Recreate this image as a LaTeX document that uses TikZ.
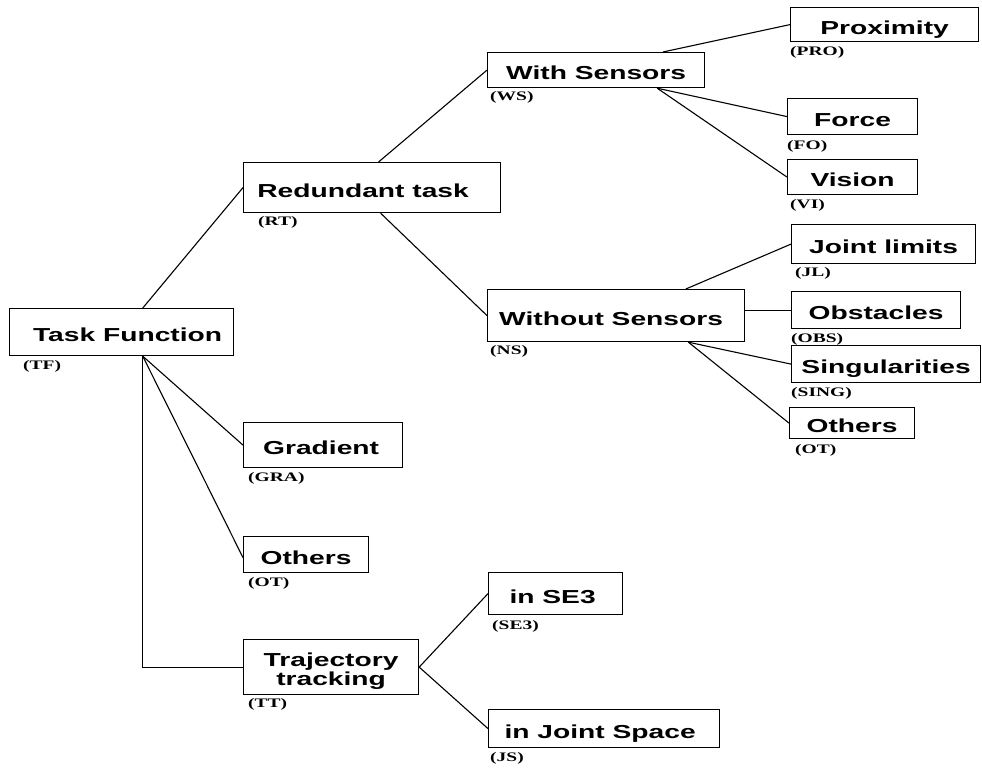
\documentclass[tikz,border=0pt]{standalone}
\usepackage{fontspec}
\usetikzlibrary{calc}
\newfontfamily\boxfont[FakeStretch=1.5]{Liberation Sans}
\newfontfamily\labfont[FakeStretch=1.5]{Liberation Serif}
\tikzset{
  box/.style={draw=black, line width=1.2pt, rectangle, inner sep=0pt, anchor=north west,
    font=\boxfont\bfseries\fontsize{18.8}{16.5}\selectfont, text height=19.4pt, text depth=0pt},
  tag/.style={anchor=west, inner sep=0pt, font=\labfont\bfseries\fontsize{13}{13}\selectfont},
  link/.style={draw=black, line width=1.1pt}
}
\newcommand{\mkbox}[7][]{%
  \node[box, minimum width={(#5-#3)*1pt}, minimum height={(#6-#4)*1pt}, #1] (#2) at (#3,#4) {#7};}
\newcommand{\padr}[1]{\hspace{#1}\mbox{}}
\begin{document}
\begin{tikzpicture}[x=1pt,y=-1pt]
\useasboundingbox (0,0) rectangle (982,768);
% boxes
\mkbox{TF}{9}{308}{233}{355}{\hspace{12pt}Task Function}
\mkbox{RT}{243}{162}{500}{212}{Redundant task\padr{18pt}}
\mkbox{WS}{487}{52}{704}{87}{With Sensors}
\mkbox{NS}{487}{289}{744}{341}{Without Sensors\padr{10pt}}
\mkbox{PRO}{790}{7}{978}{41}{Proximity}
\mkbox{FO}{787}{98}{917}{134}{Force}
\mkbox{VI}{787}{159}{917}{194}{Vision}
\mkbox{JL}{791}{224}{975}{263}{Joint limits}
\mkbox{OBS}{791}{291}{960}{328}{Obstacles}
\mkbox{SING}{791}{345}{980}{382}{Singularities}
\mkbox{OTa}{789}{407}{914}{438}{Others}
\mkbox{GRA}{243}{422}{402}{467}{Gradient\padr{4pt}}
\mkbox{OTb}{243}{536}{368}{572}{Others}
\mkbox[text height=0pt, text depth=1pt]{TT}{243}{639}{418}{694}{\begin{tabular}[t]{@{}c@{}}Trajectory\\tracking\end{tabular}}
\mkbox{SE}{488}{572}{622}{614}{in SE3\padr{6pt}}
\mkbox{JS}{488}{709}{719}{747}{in Joint Space\padr{8pt}}
% tags
\node[tag] (tTF) at (23,366) {(TF)};
\node[tag] (tRT) at (258,222) {(RT)};
\node[tag] (tWS) at (490,97) {(WS)};
\node[tag] (tPRO) at (790,52) {(PRO)};
\node[tag] (tFO) at (787,146) {(FO)};
\node[tag] (tVI) at (790,205) {(VI)};
\node[tag] (tNS) at (490,351) {(NS)};
\node[tag] (tJL) at (795,273) {(JL)};
\node[tag] (tOBS) at (791,339) {(OBS)};
\node[tag] (tSING) at (791,393) {(SING)};
\node[tag] (tOTa) at (795,450) {(OT)};
\node[tag] (tGRA) at (248,478) {(GRA)};
\node[tag] (tOTb) at (248,583) {(OT)};
\node[tag] (tTT) at (248,704) {(TT)};
\node[tag] (tSE) at (492,626) {(SE3)};
\node[tag] (tJS) at (490,758) {(JS)};
% connectors
\coordinate (tfN) at ($(TF.north west)!0.594!(TF.north east)$);
\coordinate (tfS) at ($(TF.south west)!0.594!(TF.south east)$);
\coordinate (rtN) at ($(RT.north west)!0.525!(RT.north east)$);
\coordinate (rtS) at ($(RT.south west)!0.533!(RT.south east)$);
\coordinate (wsN) at ($(WS.north west)!0.806!(WS.north east)$);
\coordinate (wsS) at ($(WS.south west)!0.78!(WS.south east)$);
\coordinate (nsN) at ($(NS.north west)!0.77!(NS.north east)$);
\coordinate (nsS) at ($(NS.south west)!0.78!(NS.south east)$);
\draw[link] (tfN) -- (RT.west);
\draw[link] (rtN) -- (WS.west);
\draw[link] (rtS) -- (NS.west);
\draw[link] (wsN) -- (PRO.west);
\draw[link] (wsS) -- (FO.west);
\draw[link] (wsS) -- (VI.west);
\draw[link] (nsN) -- (JL.west);
\draw[link] (OBS.west -| NS.east) -- (OBS.west);
\draw[link] (nsS) -- (SING.west);
\draw[link] (nsS) -- (OTa.west);
\draw[link] (tfS) -- (GRA.west);
\draw[link] (tfS) -- ([yshift=-3pt]OTb.west);
\draw[link] (tfS) |- (TT.west);
\draw[link] (TT.east) -- (SE.west);
\draw[link] (TT.east) -- (JS.west);
\end{tikzpicture}
\end{document}
